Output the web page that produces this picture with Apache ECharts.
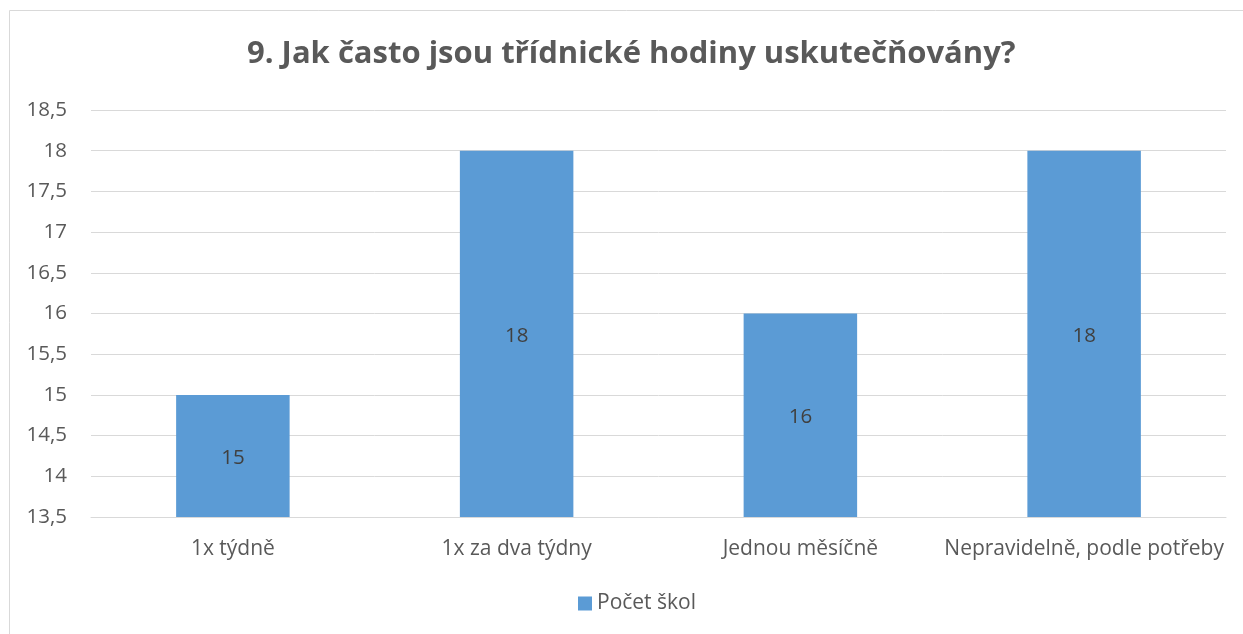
<!DOCTYPE html>
<html><head><meta charset="utf-8">
<script src="https://cdn.jsdelivr.net/npm/echarts@6/dist/echarts.min.js"></script>
<style>html,body{margin:0;padding:0;background:#fff}#c{width:1243px;height:634px}</style>
</head><body><div id="c"></div>
<script>
const categories = ['1x týdně', '1x za dva týdny', 'Jednou měsíčně', 'Nepravidelně, podle potřeby'];
const values = [15, 18, 16, 18];
const seriesName = 'Počet škol';
const titleText = '9. Jak často jsou třídnické hodiny uskutečňovány?';
const yMin = 13.5, yMax = 18.5, yStep = 0.5;

const chart = echarts.init(document.getElementById('c'));
const font = '"Open Sans", "Noto Sans", sans-serif';
chart.setOption({
  animation: false,
  textStyle: { fontFamily: font },
  graphic: [{ type: 'rect', shape: { x: 9.5, y: 10.5, width: 1250, height: 640 }, style: { fill: 'none', stroke: '#d9d9d9', lineWidth: 1 }, silent: true }],
  title: { text: titleText, left: 247, top: 39, padding: 0, textStyle: { fontFamily: font, fontSize: 31, fontWeight: 'bold', color: '#595959' } },
  legend: { data: [seriesName], bottom: 15, left: 573, itemWidth: 14, itemHeight: 14, itemGap: 6, icon: 'rect', textStyle: { fontFamily: font, fontSize: 21, color: '#595959' } },
  grid: { left: 91, right: 17, top: 110, bottom: 117, containLabel: false },
  xAxis: {
    type: 'category', data: categories,
    axisLine: { show: true, lineStyle: { color: '#d9d9d9', width: 1 } },
    axisTick: { show: false },
    axisLabel: { fontFamily: font, fontSize: 21, color: '#595959', margin: 22, interval: 0 }
  },
  yAxis: {
    type: 'value', min: yMin, max: yMax, interval: yStep,
    axisLine: { show: false }, axisTick: { show: false },
    splitLine: { lineStyle: { color: '#d9d9d9', width: 1 } },
    axisLabel: { fontFamily: font, fontSize: 20.5, color: '#595959', margin: 24, formatter: v => String(v).replace('.', ',') }
  },
  series: [{
    name: seriesName, type: 'bar', data: values, barWidth: '40%',
    itemStyle: { color: '#5B9BD5' },
    label: { show: true, position: 'inside', offset: [0, 2], fontFamily: font, fontSize: 20.5, color: '#404040', formatter: p => String(p.value).replace('.', ',') }
  }]
});
</script></body></html>
